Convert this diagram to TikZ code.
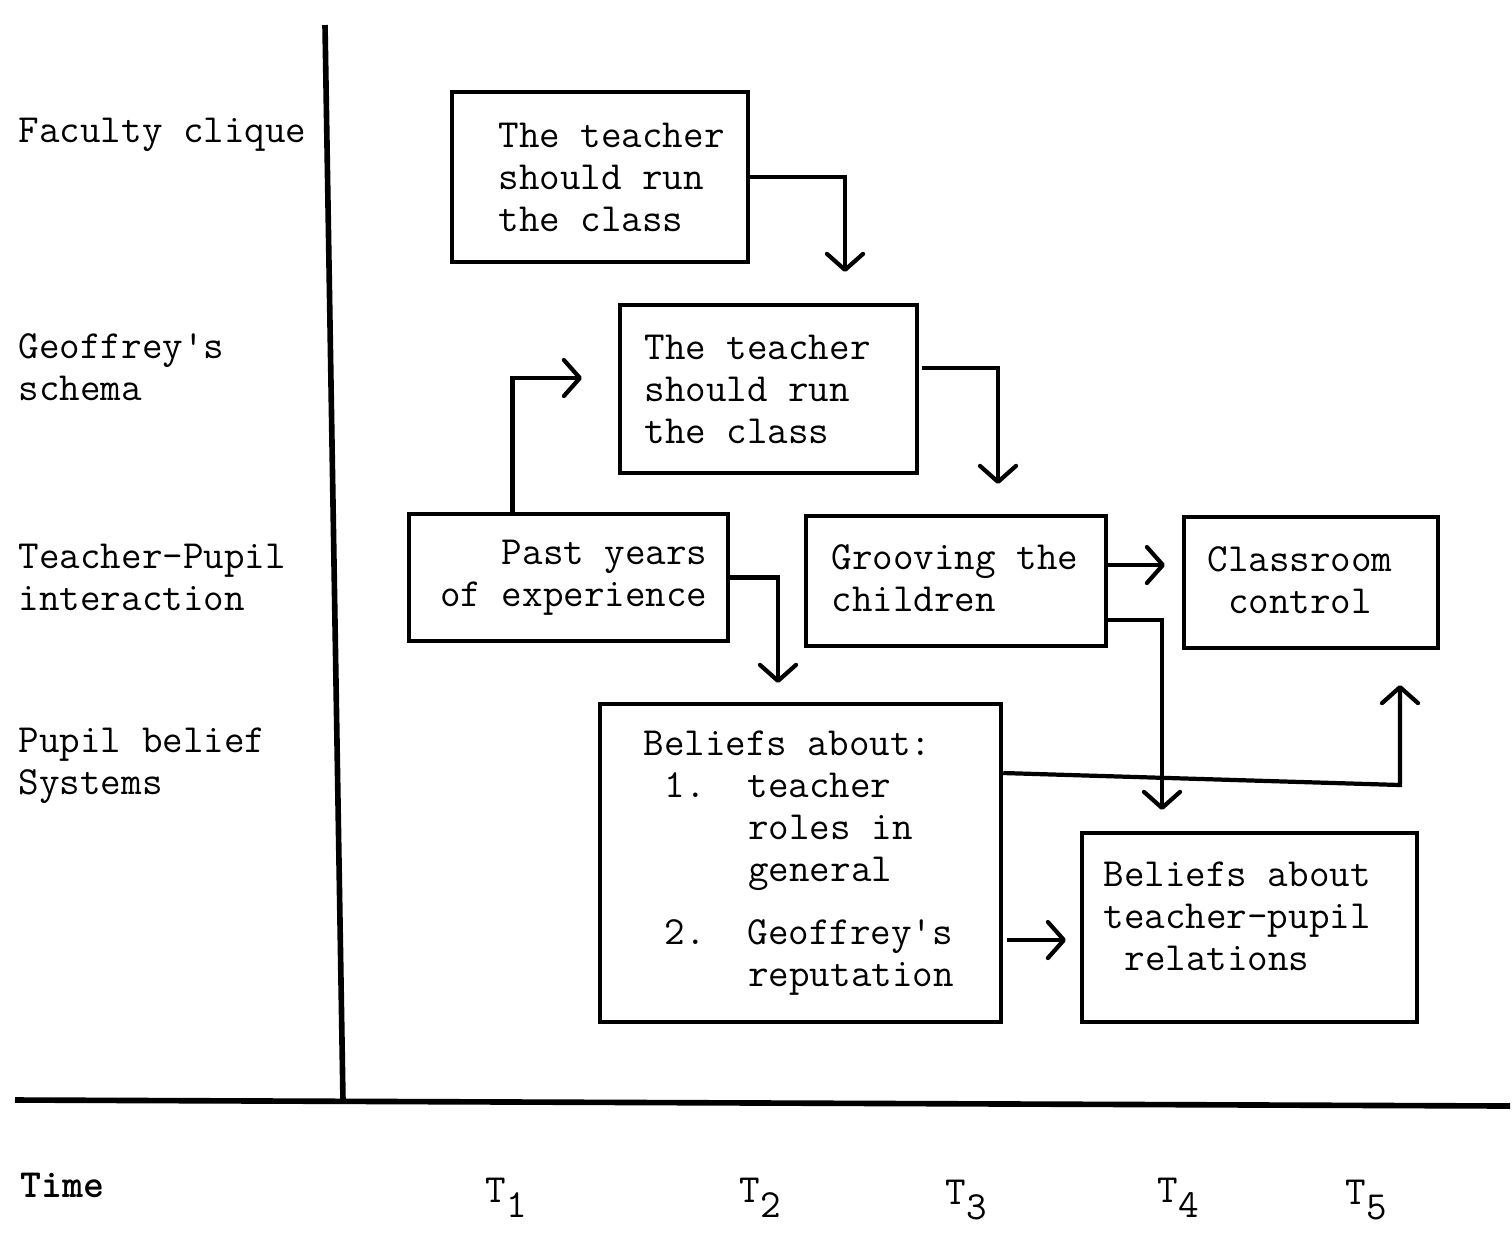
\documentclass[tikz,border=0pt]{standalone}
\usepackage{tikz}
\usetikzlibrary{arrows.meta,positioning}
\newcommand{\tsub}[2]{#1\raisebox{-0.15cm}{#2}}
\newcommand{\q}{\textquotesingle}

\begin{document}
\begin{tikzpicture}[x=0.01cm,y=-0.01cm,
  box/.style={rectangle,draw,line width=1.2pt,inner sep=0pt},
  txt/.style={inner sep=0pt,align=left,font=\ttfamily\fontsize{11.35}{11.95}\selectfont},
  arr/.style={line width=1.2pt,-{Straight Barb[length=0.16cm,width=0.36cm,round]}},
  axis/.style={line width=1.6pt}]
\useasboundingbox (0,0) rectangle (1512,1238);

% axes
\coordinate (ytop) at (325,25);
\coordinate (orig) at (343,1101);
\coordinate (xl) at (15,1100);
\coordinate (xr) at (1510,1106);
\draw[axis] (ytop) -- (orig);
\draw[axis] (xl) -- (xr);

% row labels
\node[txt,anchor=west] (fac-lbl) at (18,135) {Faculty clique};
\node[txt,anchor=west] (geo-lbl) at (18,367) {Geoffrey\q s\\schema};
\node[txt,anchor=west] (tp-lbl) at (18,577) {Teacher-Pupil\\interaction};
\node[txt,anchor=west] (pb-lbl) at (18,766) {Pupil belief\\Systems};
\node[txt,anchor=west,font=\ttfamily\bfseries\fontsize{11.35}{11.95}\selectfont] (time-lbl) at (20,1185) {Time};

% time points
\node[txt] (t1) at (506,1198) {\tsub{T}{1}};
\node[txt] (t2) at (760,1198) {\tsub{T}{2}};
\node[txt] (t3) at (966,1200) {\tsub{T}{3}};
\node[txt] (t4) at (1178,1198) {\tsub{T}{4}};
\node[txt] (t5) at (1366,1200) {\tsub{T}{5}};

% boxes
\node[box,minimum width=2.96cm,minimum height=1.70cm] (fac) at (600,177) {};
\node[txt,anchor=west] (fac-t) at ([xshift=0.48cm]fac.west) {The teacher\\should run\\the class};

\node[box,minimum width=2.97cm,minimum height=1.68cm] (geo) at (768.5,389) {};
\node[txt,anchor=west] (geo-t) at ([xshift=0.26cm]geo.west) {The teacher\\should run\\the class};

\node[box,minimum width=3.19cm,minimum height=1.27cm] (past) at (568.5,577.5) {};
\node[txt,anchor=east,align=right] (past-t) at ([xshift=-0.22cm]past.east) {Past years\\of experience};

\node[box,minimum width=3.00cm,minimum height=1.30cm] (groove) at (956,581) {};
\node[txt,anchor=west] (groove-t) at ([xshift=0.27cm,yshift=0.03cm]groove.west) {Grooving the\\children};

\node[box,minimum width=2.54cm,minimum height=1.31cm] (ctrl) at (1311,582.5) {};
\node[txt,anchor=west,align=center] (ctrl-t) at ([xshift=0.25cm,yshift=0.025cm]ctrl.west) {Classroom\\control};

\node[box,minimum width=4.01cm,minimum height=3.18cm] (blf) at (800.5,863) {};
\node[txt,anchor=west] (blf-t) at ([xshift=0.45cm]blf.west) {Beliefs about:\\
\hspace*{0.525em}1.\hspace*{1.05em}teacher\\
\hspace*{2.625em}roles in\\
\hspace*{2.625em}general\\[0.21cm]
\hspace*{0.525em}2.\hspace*{1.05em}Geoffrey\q s\\
\hspace*{2.625em}reputation};

\node[box,minimum width=3.35cm,minimum height=1.89cm] (rel) at (1249.5,927.5) {};
\node[txt,anchor=west] (rel-t) at ([xshift=0.23cm,yshift=0.11cm]rel.west) {Beliefs about\\teacher-pupil\\\hspace*{0.525em}relations};

% connectors
\coordinate (a1) at (845,272);
\draw[arr] (fac.east) -| (a1);

\coordinate (a2) at (582,378);
\draw[arr] (past.north) ++(-56,0) |- (a2);

\coordinate (a3) at (998,484);
\draw[arr] (geo.east) ++(3,-21) -| (a3);

\coordinate (a4) at (778,683);
\draw[arr] (past.east) -| (a4);

\coordinate (a5) at (1165,565);
\draw[arr] (groove.east |- a5) -- (a5);

\coordinate (a6) at (1162,810);
\draw[arr] (groove.east) ++(0,39) -| (a6);

\coordinate (c7) at (1400,785);
\coordinate (a7) at (1400,685);
\draw[arr] (blf.east) ++(0,-90) -- (c7) -- (a7);

\coordinate (a8) at (1066,940);
\draw[arr] (blf.east |- a8) ++(4,0) -- (a8);
\end{tikzpicture}
\end{document}
